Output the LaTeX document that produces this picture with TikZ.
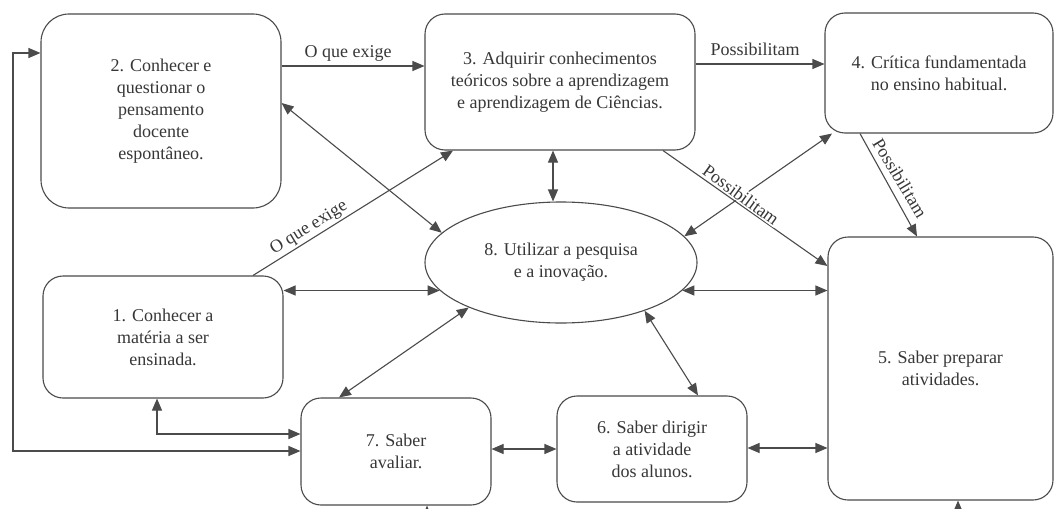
\documentclass[tikz,border=0pt]{standalone}
\usepackage{fontspec}
\setmainfont{Liberation Serif}
\usetikzlibrary{arrows.meta,shapes.geometric}
\definecolor{ln}{RGB}{75,75,75}
\definecolor{tx}{RGB}{55,55,55}
\begin{document}
\begin{tikzpicture}[x=1pt,y=-1pt,
  txt/.style={text=tx, font=\fontsize{18}{22}\selectfont},
  box/.style={txt, draw=ln, line width=1.1pt, rounded corners=20pt, align=center, inner sep=0pt},
  oval/.style={txt, draw=ln, line width=1.1pt, ellipse, align=center, inner sep=0pt},
  conn/.style={draw=ln, line width=1.1pt, -{Triangle[length=12pt,width=10pt]}},
  dconn/.style={draw=ln, line width=1.1pt, {Triangle[length=12pt,width=10pt]}-{Triangle[length=12pt,width=10pt]}},
  lbl/.style={txt, inner sep=1pt}
]
\useasboundingbox (0,0) rectangle (1056,508);
\clip (0,0) rectangle (1056,508);
\fill[white] (0,0) rectangle (1056,508);

% nodes
\node[box, rounded corners=28pt, minimum width=240pt, minimum height=194pt] (b2) at (161,111)
  {2. Conhecer e\\questionar o\\pensamento\\docente\\espontâneo.};
\node[box, minimum width=270pt, minimum height=136pt] (b3) at (560,82)
  {3. Adquirir conhecimentos\\teóricos sobre a aprendizagem\\e aprendizagem de Ciências.};
\node[box, minimum width=228pt, minimum height=120pt] (b4) at (939,73)
  {4. Crítica fundamentada\\no ensino habitual.};
\node[oval, minimum width=272pt, minimum height=121pt] (b8) at (561,262.5)
  {8. Utilizar a pesquisa\\e a inovação.};
\node[box, minimum width=240pt, minimum height=122pt] (b1) at (163,337)
  {1. Conhecer a\\matéria a ser\\ensinada.};
\node[box, minimum width=190pt, minimum height=107pt] (b7) at (396,451.5)
  {7. Saber\\avaliar.};
\node[box, minimum width=190pt, minimum height=106pt] (b6) at (652,449)
  {6. Saber dirigir\\a atividade\\dos alunos.};
\node[box, minimum width=225pt, minimum height=263pt] (b5) at (940.5,368.5)
  {5. Saber preparar\\atividades.};

% free ends below the picture and loop corner
\coordinate (s7) at (427,518);
\coordinate (s5) at (958,518);
\coordinate (lp) at (13,451);

% connectors
\draw[conn] (b2.east |- 0,66) -- (b3.west |- 0,66);
\draw[conn] (b3.east |- 0,64) -- (b4.west |- 0,64);
\draw[conn] (b3.south -| 663,0) -- (b5.west |- 0,266);
\draw[conn] (b4.south -| 860,0) -- (b5.north -| 917,0);
\draw[conn] (b1.north -| 253,0) -- (b3.south -| 453,0);
\draw[dconn] (b8.12) -- (b4.south -| 832,0);
\draw[dconn] (b2.east |- 0,103) -- (b8.166);
\draw[dconn] (b3.south -| 553,0) -- (b8.north -| 553,0);
\draw[dconn] (b1.east |- b8.193) -- (b8.193);
\draw[dconn] (b8.-13) -- (b8.-13 -| b5.west);
\draw[dconn] (b8.206) -- (b7.north -| 339,0);
\draw[dconn] (b8.330) -- (b6.north -| 698,0);
\draw[dconn] (b1.south -| 157,0) |- (b7.west |- 0,434);
\draw[dconn] (b7.west |- 0,451) -- (lp) |- (b2.west |- 0,53);
\draw[dconn] (b7.east |- 0,449) -- (b6.west |- 0,449);
\draw[dconn] (b6.east |- 0,448) -- (b5.west |- 0,448);
\draw[conn] (s7) -- (b7.south -| s7);
\draw[conn] (s5) -- (b5.south -| s5);

% labels
\node[lbl] (l23) at (348,53) {O que exige};
\node[lbl] (l34) at (755,49) {Possibilitam};
\node[lbl, fill=white, rotate=-36] (l35) at (741,195) {Possibilitam};
\node[lbl, rotate=-59] (l45) at (900,178) {Possibilitam};
\node[lbl, rotate=31.5] (l13) at (309,228) {O que exige};
\end{tikzpicture}
\end{document}
